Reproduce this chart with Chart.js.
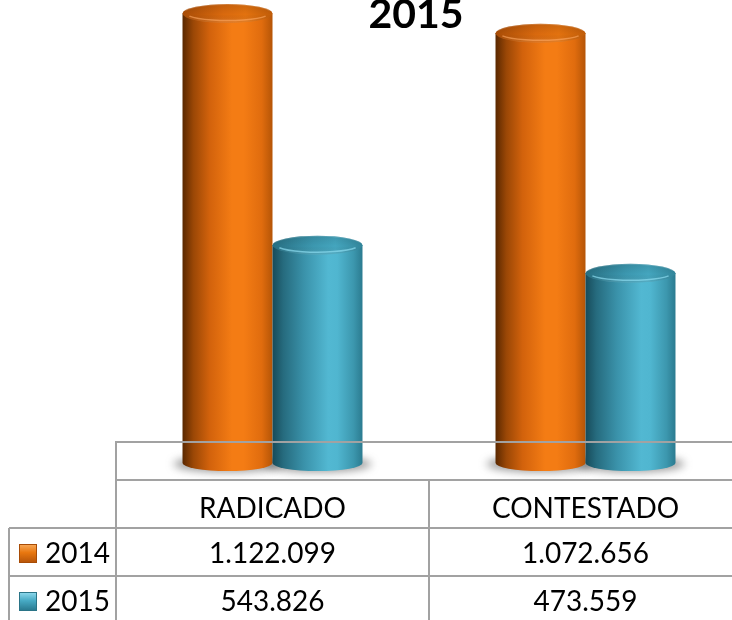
<!DOCTYPE html>
<html><head><meta charset="utf-8">
<script src="https://cdn.jsdelivr.net/npm/chart.js@4"></script>
<style>
html,body{margin:0;padding:0;width:732px;height:620px;overflow:hidden;background:#fff;}
#wrap{position:relative;width:732px;height:620px;overflow:hidden;font-family:Lato,'Open Sans',sans-serif;}
#c{position:absolute;left:0;top:0;}
#title{position:absolute;left:316px;width:200px;top:-7px;text-align:center;font-weight:bold;font-size:41px;line-height:40px;color:#000;}
.cell{position:absolute;box-sizing:border-box;text-align:center;font-size:28px;color:#000;white-space:nowrap;}
.line{position:absolute;background:#a2a2a2;}
.icon{display:inline-block;width:18px;height:19px;box-sizing:border-box;vertical-align:middle;margin-right:8px;position:relative;top:-2px;}
</style></head><body>
<div id="wrap"><canvas id="c" width="742" height="481"></canvas><div id="title">2015</div><div id="table"></div></div>
<script>
// ---- data ----
const categories = ['RADICADO', 'CONTESTADO'];
const seriesNames = ['2014', '2015'];
const values2014 = [1122099, 1072656];
const values2015 = [543826, 473559];
const yMax = 1155800;

// ---- styles ----
const palettes = [
  { body: [[0,'#5a2800'],[0.12,'#9a4706'],[0.3,'#d2620c'],[0.55,'#f47c14'],[0.68,'#f47c14'],[0.88,'#e06c0e'],[1,'#b55507']],
    cap:  [[0,'#a94d06'],[0.45,'#d9690e'],[0.7,'#e3720f'],[1,'#c15d09']],
    rim: 'rgba(255,170,100,0.6)',
    icon: 'linear-gradient(to bottom,#f7a553 0%,#e8770f 45%,#b9560a 100%)', iconBorder:'#a84c06' },
  { body: [[0,'#174b5a'],[0.12,'#266b7e'],[0.35,'#3a92aa'],[0.62,'#52b8d2'],[0.72,'#50b6d0'],[0.9,'#3c97ae'],[1,'#2b7b90']],
    cap:  [[0,'#276f82'],[0.45,'#3c98b0'],[0.7,'#44a6bf'],[1,'#32869b']],
    rim: 'rgba(140,220,240,0.7)',
    icon: 'linear-gradient(to bottom,#8ad6ea 0%,#47aac4 45%,#2a7b91 100%)', iconBorder:'#2a7487' }
];
const fmt = n => n.toString().replace(/\B(?=(\d{3})+(?!\d))/g, '.');

function drawCyl(ctx, x, top, base, w, pal){
  const l = x - w/2, r = x + w/2, rx = w/2, ry = 9.5;
  const g = ctx.createLinearGradient(l, 0, r, 0);
  pal.body.forEach(([s,c]) => g.addColorStop(s, c));
  ctx.beginPath();
  ctx.moveTo(l, top);
  ctx.lineTo(l, base);
  ctx.ellipse(x, base, rx, ry - 1.5, 0, Math.PI, 0, true);
  ctx.lineTo(r, top);
  ctx.closePath();
  ctx.fillStyle = g; ctx.fill();
  // cap
  const cg = ctx.createLinearGradient(l, 0, r, 0);
  pal.cap.forEach(([s,c]) => cg.addColorStop(s, c));
  ctx.beginPath(); ctx.ellipse(x, top, rx, ry, 0, 0, Math.PI*2);
  ctx.fillStyle = cg; ctx.fill();
  const vg = ctx.createLinearGradient(0, top - ry, 0, top + ry);
  vg.addColorStop(0, 'rgba(0,0,0,0.10)');
  vg.addColorStop(0.55, 'rgba(0,0,0,0)');
  vg.addColorStop(1, 'rgba(255,255,255,0.12)');
  ctx.fillStyle = vg; ctx.fill();
  // front rim highlight
  ctx.beginPath(); ctx.ellipse(x, top, rx - 4, ry - 2.5, 0, 0.12*Math.PI, 0.88*Math.PI);
  ctx.strokeStyle = pal.rim; ctx.lineWidth = 1.5; ctx.stroke();
  // back rim light edge
  ctx.beginPath(); ctx.ellipse(x, top, rx - 0.5, ry - 0.5, 0, 1.1*Math.PI, 1.9*Math.PI);
  ctx.strokeStyle = 'rgba(255,255,255,0.18)'; ctx.lineWidth = 1; ctx.stroke();
}

const cylPlugin = {
  id: 'cyl',
  beforeDatasetsDraw(chart){
    const ctx = chart.ctx;
    ctx.save();
    ctx.filter = 'blur(4px)';
    ctx.fillStyle = 'rgba(70,70,70,0.55)';
    chart.data.datasets.forEach((ds, i) => {
      chart.getDatasetMeta(i).data.forEach(bar => {
        ctx.beginPath();
        ctx.ellipse(bar.x, bar.base + 1, bar.width/2 + 9, 8, 0, 0, Math.PI*2);
        ctx.fill();
      });
    });
    ctx.restore();
  },
  afterDatasetsDraw(chart){
    const ctx = chart.ctx;
    ctx.save();
    chart.data.datasets.forEach((ds, i) => {
      chart.getDatasetMeta(i).data.forEach(bar => {
        drawCyl(ctx, bar.x, bar.y, bar.base, bar.width, palettes[i]);
      });
    });
    ctx.restore();
  }
};

const chart = new Chart(document.getElementById('c'), {
  type: 'bar',
  data: {
    labels: categories,
    datasets: [
      { label: seriesNames[0], data: values2014, backgroundColor: 'rgba(0,0,0,0)', borderWidth: 0 },
      { label: seriesNames[1], data: values2015, backgroundColor: 'rgba(0,0,0,0)', borderWidth: 0 }
    ]
  },
  options: {
    responsive: false,
    animation: false,
    categoryPercentage: 0.575,
    barPercentage: 1.0,
    layout: { padding: { left: 116, right: 0, top: 0, bottom: 18 } },
    plugins: { legend: { display: false }, title: { display: false }, tooltip: { enabled: false } },
    scales: {
      x: { display: false },
      y: { display: false, min: 0, max: yMax }
    }
  },
  plugins: [cylPlugin]
});

// ---- data table (built from the chart's x scale) ----
(function(){
  const t = document.getElementById('table');
  const area = chart.chartArea;
  const xs = chart.scales.x;
  const colW = (area.right - area.left) / categories.length;
  const base = chart.scales.y.getPixelForValue(0);
  const floorTop = Math.round(base - 21);
  const headTop = 480, rowH = 48, legLeft = 9, tableRight = 760;
  const add = (cls, css, html) => { const d = document.createElement('div'); d.className = cls; Object.assign(d.style, css); if (html !== undefined) d.innerHTML = html; t.appendChild(d); return d; };
  const hline = (x1, x2, y) => add('line', { left: x1 + 'px', top: (y - 1) + 'px', width: (x2 - x1) + 'px', height: '2px' });
  const vline = (x, y1, y2) => add('line', { left: (x - 1) + 'px', top: y1 + 'px', width: '2px', height: (y2 - y1) + 'px' });
  // floor
  hline(area.left, tableRight, floorTop);
  hline(area.left, tableRight, headTop);
  vline(area.left, floorTop - 1, 640);
  // header
  categories.forEach((c, i) => {
    const cx = xs.getPixelForValue(i);
    add('cell', { left: (cx - colW/2) + 'px', width: colW + 'px', top: headTop + 'px', height: rowH + 'px', lineHeight: (rowH + 6) + 'px' }, c);
    if (i > 0) vline(cx - colW/2, headTop, 640);
  });
  const rows = [values2014, values2015];
  rows.forEach((vals, r) => {
    const top = headTop + rowH * (r + 1);
    hline(legLeft, tableRight, top);
    add('cell', { left: legLeft + 'px', width: (area.left - legLeft) + 'px', top: top + 'px', height: rowH + 'px', lineHeight: rowH + 'px', textAlign: 'left', paddingLeft: '10px' },
      '<span class="icon" style="background:' + palettes[r].icon + ';border:1px solid ' + palettes[r].iconBorder + '"></span>' + seriesNames[r]);
    vals.forEach((v, i) => {
      const cx = xs.getPixelForValue(i);
      add('cell', { left: (cx - colW/2) + 'px', width: colW + 'px', top: top + 'px', height: rowH + 'px', lineHeight: rowH + 'px' }, fmt(v));
    });
  });
  vline(legLeft, headTop + rowH, 640);
})();
</script>
</body></html>
